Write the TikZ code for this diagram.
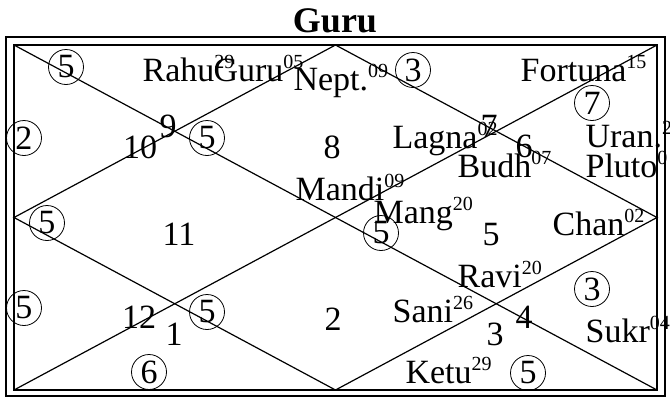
\documentclass[tikz,border=0pt]{standalone}
\usepackage{fontspec}
\setmainfont{Liberation Serif}
\usepackage{tikz}

% degree as a small raised number
\newcommand{\degsup}[1]{\raisebox{6.5pt}{\fontsize{10}{10}\selectfont #1}}

\begin{document}
\begin{tikzpicture}[x=0.5pt, y=-0.5pt, line width=0.6pt,
  planet/.style={anchor=base west, inner sep=0pt, font=\fontsize{17}{20}\selectfont},
  house/.style={anchor=base, inner sep=0pt, font=\fontsize{17}{20}\selectfont},
  ring/.style={circle, draw, line width=0.4pt, inner sep=0pt, minimum size=17.5pt,
               font=\fontsize{17}{20}\selectfont}]
  \useasboundingbox (0,0) rectangle (670,397);

  % title above the frame
  \node[anchor=base, inner sep=0pt, font=\fontsize{18}{21}\selectfont\bfseries]
       (title) at (335,32) {Guru};

  % double frame
  \draw (6,37) rectangle (665,396);
  \coordinate (nw) at (14,45);  \coordinate (ne) at (657,45);
  \coordinate (sw) at (14,390); \coordinate (se) at (657,390);
  \coordinate (n) at (335.5,45);  \coordinate (s) at (335.5,390);
  \coordinate (w) at (14,217.5);  \coordinate (e) at (657,217.5);
  \draw (nw) rectangle (se);

  % diagonals and inner diamond
  \draw (nw) -- (se);
  \draw (sw) -- (ne);
  \draw (n) -- (e) -- (s) -- (w) -- cycle;

  % house numbers
  \foreach \i/\x/\y in {1/174/345, 2/333/330, 3/495/345, 4/524/328,
                        5/491/245, 6/524/157, 7/489/137, 8/332/158,
                        9/168/137, 10/140/158, 11/179/245, 12/139/328} {
    \node[house] (h\i) at (\x,\y) {\i};
  }

  % circled counts
  \foreach \i/\x/\y/\v in {1/66/67/5, 2/413/70/3, 3/24/138/2, 4/207/138/5,
                           5/592/103/7, 6/47/223/5, 7/381/233/5, 8/24/308/5,
                           9/207/312/5, 10/592/289/3, 11/149/372/6, 12/528/373/5} {
    \node[ring] (c\i) at (\x,\y) {\v};
  }

  % planets with degrees
  \foreach \n/\x/\y/\t/\d in {rahu/142/81/Rahu/29, guru/213/81/Guru/05,
                              nept/293/90/Nept./09, fortuna/520/81/Fortuna/15,
                              lagna/392/148/Lagna/02, budh/457/177/Budh/07,
                              uran/585/147/Uran./2, pluto/585/177/Pluto/0,
                              mandi/295/200/Mandi/09, mang/373/223/Mang/20,
                              chan/552/235/Chan/02, ravi/457/287/Ravi/20,
                              sani/392/322/Sani/26, sukr/585/342/Sukr/04,
                              ketu/405/383/Ketu/29} {
    \node[planet] (\n) at (\x,\y) {\t\degsup{\d}};
  }
\end{tikzpicture}
\end{document}
